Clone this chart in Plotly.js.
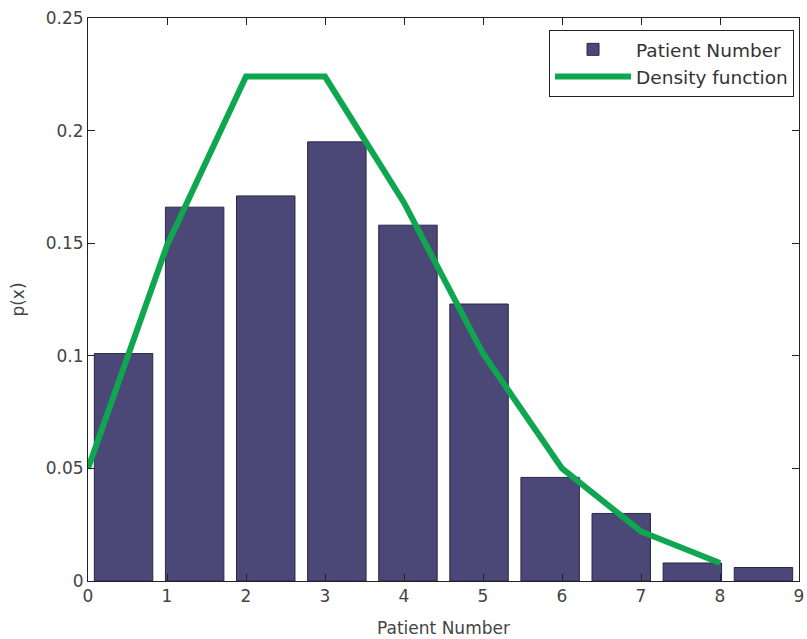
<!DOCTYPE html>
<html>
<head>
<meta charset="utf-8">
<script src="https://cdn.plot.ly/plotly-3.0.1.min.js"></script>
<style>html,body{margin:0;padding:0;background:#fff;}#chart{width:807px;height:639px;}</style>
</head>
<body>
<div id="chart"></div>
<script>
// Histogram bin centres (10 bins over 0..9) and observed relative frequencies
var binCenters = [0.45, 1.35, 2.25, 3.15, 4.05, 4.95, 5.85, 6.75, 7.65, 8.55];
var binValues  = [0.101, 0.166, 0.171, 0.195, 0.158, 0.123, 0.046, 0.030, 0.008, 0.006];
// Density function points
var densX = [0, 1, 2, 3, 4, 5, 6, 7, 8];
var densY = [0.050, 0.149, 0.224, 0.224, 0.168, 0.101, 0.050, 0.022, 0.008];
var yTicks = [0, 0.05, 0.1, 0.15, 0.2, 0.25];
var yTickText = ['0', '0.05', '0.1', '0.15', '0.2', '0.25'];
var xTicks = [0, 1, 2, 3, 4, 5, 6, 7, 8, 9];

var FONT = 'DejaVu Sans, Arial, sans-serif';
var traces = [
  {
    type: 'bar', name: 'Patient Number', x: binCenters, y: binValues, width: 0.74,
    marker: {color: '#4b4777', line: {color: '#2a2848', width: 1}}
  },
  {
    type: 'scatter', mode: 'lines', name: 'Density function', x: densX, y: densY,
    line: {color: '#0fa650', width: 6}
  }
];
var axisCommon = {
  showline: true, linecolor: '#222', linewidth: 1, mirror: 'ticks',
  ticks: 'inside', ticklen: 7, tickcolor: '#222', showgrid: false, zeroline: false,
  tickfont: {family: FONT, size: 17, color: '#444'}
};
var layout = {
  width: 807, height: 639,
  margin: {l: 88, r: 8, t: 18, b: 58},
  paper_bgcolor: '#fff', plot_bgcolor: '#fff',
  xaxis: Object.assign({}, axisCommon, {
    range: [0, 9], tickvals: xTicks,
    title: {text: 'Patient Number', font: {family: FONT, size: 17, color: '#444'}, standoff: 16}
  }),
  yaxis: Object.assign({}, axisCommon, {
    range: [0, 0.25], tickvals: yTicks, ticktext: yTickText,
    title: {text: 'p(x)', font: {family: FONT, size: 17, color: '#444'}, standoff: 16}
  }),
  showlegend: true,
  legend: {
    x: 0.993, xanchor: 'right', y: 0.979, yanchor: 'top',
    bgcolor: '#fff', bordercolor: '#222', borderwidth: 1,
    font: {family: FONT, size: 18.5, color: '#333'},
    itemwidth: 76, tracegroupgap: 0
  },
  bargap: 0
};
Plotly.newPlot('chart', traces, layout, {displayModeBar: false, staticPlot: true});
</script>
</body>
</html>
